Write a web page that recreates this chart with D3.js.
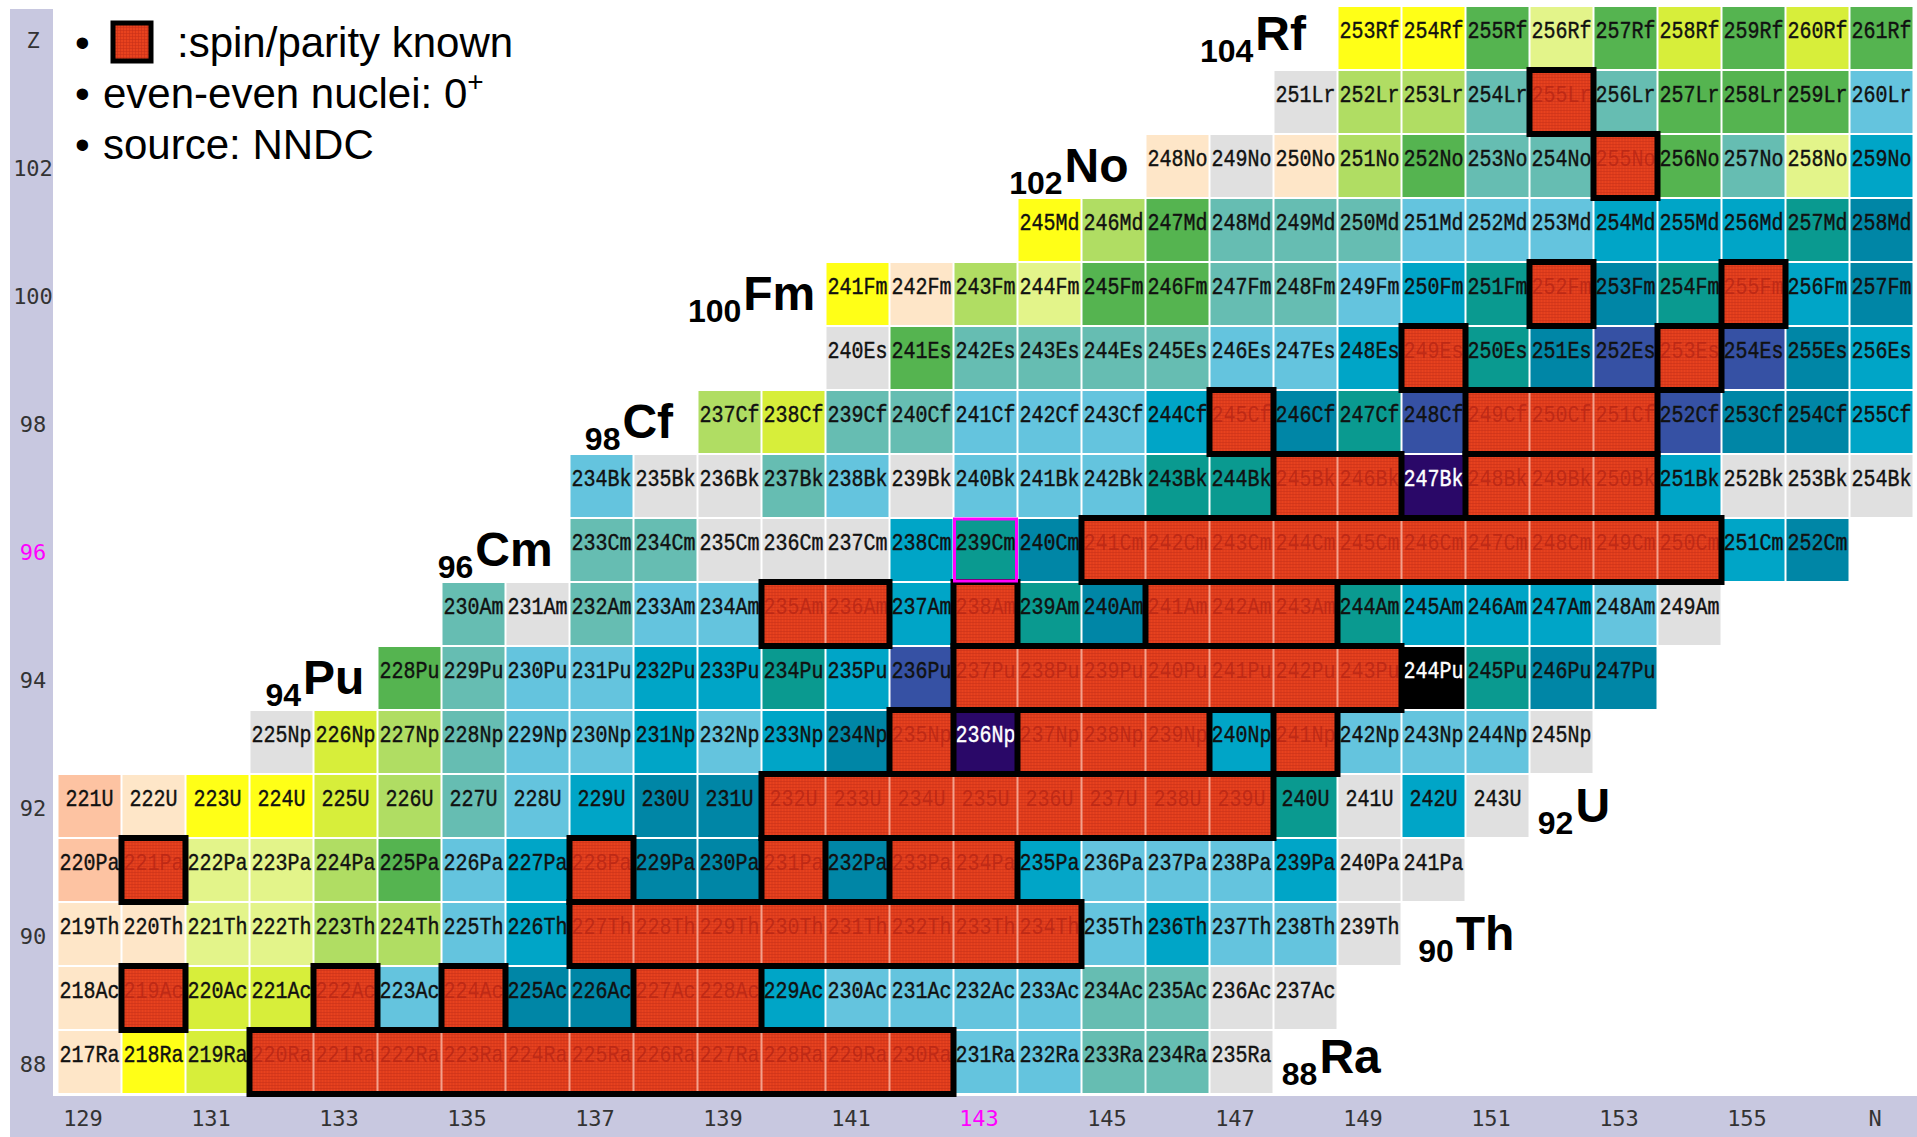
<!DOCTYPE html>
<html>
<head>
<meta charset="utf-8">
<script src="https://cdn.jsdelivr.net/npm/d3@7/dist/d3.min.js"></script>
<style>
  body { margin: 0; background: #fff; }
  svg { display: block; }
</style>
</head>
<body>
<svg id="chart" width="1917" height="1137"></svg>
<script>
// ---- data -------------------------------------------------------------
// proton numbers (rows), bottom to top
const protonNumbers = d3.range(88, 105);
const elementSymbols = ["Ra","Ac","Th","Pa","U","Np","Pu","Am","Cm","Bk","Cf","Es","Fm","Md","No","Lr","Rf"];
// neutron number of the lightest isotope shown in each row
const firstNeutron = [129,129,129,129,129,132,134,135,137,137,139,141,141,144,146,148,149];
// half-life class of each isotope along a row ("sp" = spin/parity known)
const isotopeClasses = [
  "pc ye yg sp sp sp sp sp sp sp sp sp sp sp lb lb tl tl gy",                 // Ra
  "pc sp yg yg sp lb sp db db sp sp mb lb lb lb lb tl tl gy gy",              // Ac
  "pc pc py py lg lg lb mb sp sp sp sp sp sp sp sp lb mb lb lb gy",           // Th
  "sa sp py py lg gr lb mb sp db db sp db sp sp mb lb lb lb mb gy gy",        // Pa
  "sa pc ye ye yg lg tl lb mb db db sp sp sp sp sp sp sp sp dt gy mb gy",     // U
  "gy yg lg tl lb lb mb lb mb db sp pp sp sp sp mb sp lb lb lb gy",           // Np
  "gr tl lb lb mb mb dt mb rb sp sp sp sp sp sp sp bk dt db db",              // Pu
  "tl gy tl lb lb sp sp mb sp dt db sp sp sp dt mb mb mb lb gy",              // Am
  "tl tl gy gy gy mb dt db sp sp sp sp sp sp sp sp sp sp mb db",              // Cm
  "lb gy gy tl lb gy lb lb lb dt dt sp sp pp sp sp sp mb gy gy gy",           // Bk
  "lg yg tl tl lb lb lb mb sp db dt rb sp sp sp rb db db mb",                 // Cf
  "gy gr tl tl tl tl lb lb mb sp dt db rb sp rb db mb",                       // Es
  "ye pc lg py gr gr tl tl lb mb dt sp db dt sp mb db",                       // Fm
  "ye lg gr tl tl tl lb lb lb mb mb mb dt db",                                // Md
  "pc gy pc lg gr tl tl sp gr tl py mb",                                      // No
  "gy lg lg tl sp tl gr gr gr lb",                                            // Lr
  "ye ye gr py gr yg gr yg gr"                                                // Rf
];
// axis ticks
const neutronTicks = [129,131,133,135,137,139,141,143,145,147,149,151,153,155,157];
const protonTicks = [88,90,92,94,96,98,100,102,104];
// highlighted nuclide (239Cm)
const markN = 143, markZ = 96;
// element tags drawn beside the rows
const taggedElements = [
  {z: 88, sym: "Ra"}, {z: 90, sym: "Th"}, {z: 92, sym: "U"}, {z: 94, sym: "Pu"},
  {z: 96, sym: "Cm"}, {z: 98, sym: "Cf"}, {z: 100, sym: "Fm"}, {z: 102, sym: "No"}, {z: 104, sym: "Rf"}
];
const legendLines = [":spin/parity known", "even-even nuclei: 0", "source: NNDC"];

// ---- styles -----------------------------------------------------------
const swatch = {
  gy: "#e0e0e0", pc: "#fee6c8", sa: "#fdc3a2", ye: "#ffff17", yg: "#d7ee3a",
  py: "#e3f48a", lg: "#b0dd63", gr: "#55b450", tl: "#66bdb2", lb: "#64c4de",
  mb: "#00a5c7", db: "#0086a6", dt: "#0a9a90", rb: "#3651a4", pp: "#2a0868",
  bk: "#000000", sp: "url(#spinFill)"
};
const whiteText = new Set(["pp", "bk"]);

// ---- build nuclide table ---------------------------------------------
const nuclides = [];
const spinRuns = [];
protonNumbers.forEach((z, i) => {
  const cls = isotopeClasses[i].split(" ");
  let run = null;
  cls.forEach((c, k) => {
    const n = firstNeutron[i] + k;
    nuclides.push({z, n, a: z + n, sym: elementSymbols[i], cls: c});
    if (c === "sp") {
      if (run && run.n1 === n - 1) run.n1 = n;
      else { run = {z, n0: n, n1: n}; spinRuns.push(run); }
    }
  });
});

// ---- scales -----------------------------------------------------------
const STEP = 64;
const nDomain = d3.range(129, 158);
const x = d3.scaleBand().domain(nDomain)
  .range([57.5, 57.5 + nDomain.length * STEP])
  .paddingInner(2 / STEP).paddingOuter(1 / STEP);
const y = d3.scaleBand().domain(protonNumbers.slice().reverse())
  .range([6, 6 + protonNumbers.length * STEP])
  .paddingInner(2 / STEP).paddingOuter(1 / STEP);
const bw = x.bandwidth();
const xMid = d3.scaleLinear().domain([129, 157]).range([x(129) + bw / 2, x(157) + bw / 2]);
const yMid = d3.scaleLinear().domain([88, 104]).range([y(88) + bw / 2, y(104) + bw / 2]);

const svg = d3.select("#chart");
const W = 1917, H = 1137;

// textured red for spin/parity known nuclides
const defs = svg.append("defs");
const pat = defs.append("pattern").attr("id", "spinFill")
  .attr("patternUnits", "userSpaceOnUse").attr("width", 3).attr("height", 3);
pat.append("rect").attr("width", 3).attr("height", 3).attr("fill", "#e8421e");
pat.append("rect").attr("width", 3).attr("height", 1).attr("fill", "#c73018").attr("opacity", 0.55);
pat.append("rect").attr("width", 1).attr("height", 3).attr("fill", "#c73018").attr("opacity", 0.55);

// axis bands
svg.append("rect").attr("x", 10).attr("y", 9).attr("width", 43).attr("height", H - 9).attr("fill", "#c8c8e0");
svg.append("rect").attr("x", 10).attr("y", 1096).attr("width", W - 10).attr("height", H - 1096).attr("fill", "#c8c8e0");

// pink seams under runs of spin/parity known cells
svg.append("g").selectAll("rect").data(spinRuns).join("rect")
  .attr("x", d => x(d.n0) - 1).attr("y", d => y(d.z) - 1)
  .attr("width", d => (d.n1 - d.n0 + 1) * STEP).attr("height", STEP)
  .attr("fill", "#f3a08c");

// cells
const cells = svg.append("g").selectAll("g").data(nuclides).join("g")
  .attr("transform", d => `translate(${x(d.n)},${y(d.z)})`);
cells.append("rect").attr("width", bw).attr("height", bw)
  .attr("fill", d => swatch[d.cls]);
cells.append("text")
  .attr("transform", `translate(${bw / 2},31) scale(1,1.18)`)
  .attr("text-anchor", "middle")
  .attr("font-family", "'Liberation Mono', 'DejaVu Sans Mono', monospace")
  .attr("font-size", 20)
  .attr("stroke-width", 0.35)
  .attr("stroke", d => d.cls === "sp" ? "none" : whiteText.has(d.cls) ? "#fff" : "#111")
  .attr("fill", d => d.cls === "sp" ? "#b52414" : whiteText.has(d.cls) ? "#fff" : "#111")
  .attr("fill-opacity", d => d.cls === "sp" ? 0.75 : 1)
  .text(d => d.a + d.sym);

// black outline round each run
svg.append("g").selectAll("rect").data(spinRuns).join("rect")
  .attr("x", d => x(d.n0) - 1).attr("y", d => y(d.z) - 1)
  .attr("width", d => (d.n1 - d.n0 + 1) * STEP).attr("height", STEP)
  .attr("fill", "none").attr("stroke", "#000").attr("stroke-width", 6);

// highlighted nuclide
svg.append("rect").attr("x", x(markN)).attr("y", y(markZ))
  .attr("width", bw).attr("height", bw)
  .attr("fill", "none").attr("stroke", "#ff00ff").attr("stroke-width", 3);

// axes
const axisFont = "'DejaVu Sans Mono', monospace";
const gx = svg.append("g").attr("transform", `translate(-7,1110)`)
  .call(d3.axisBottom(xMid).tickValues(neutronTicks).tickSize(0).tickPadding(0)
    .tickFormat(d => d === 157 ? "N" : d));
gx.select(".domain").remove();
gx.selectAll("text").attr("font-family", axisFont).attr("font-size", 22)
  .attr("fill", d => d === markN ? "#ff00ff" : "#333");

const gy = svg.append("g").attr("transform", `translate(33,2)`)
  .call(d3.axisLeft(yMid).tickValues(protonTicks).tickSize(0).tickPadding(0)
    .tickFormat(d => d === 104 ? "Z" : d));
gy.select(".domain").remove();
gy.selectAll("text").attr("font-family", axisFont).attr("font-size", 22)
  .attr("text-anchor", "middle").attr("x", 0)
  .attr("fill", d => d === markZ ? "#ff00ff" : "#333");

// element tags: left edge given in neutron-number units, lifted rows where space is tight
const tagLeft = {88: 147.63, 90: 149.76, 92: 151.63, 94: 131.75, 96: 134.44, 98: 136.74, 100: 138.35, 102: 143.37, 104: 146.35};
const tagLift = {88: -5, 104: -4};
const tags = svg.append("g").attr("font-family", "'Liberation Sans', Arial, sans-serif").attr("font-weight", "bold").attr("fill", "#000");
taggedElements.forEach(t => {
  const base = y(t.z) + 47 + (tagLift[t.z] || 0);
  const x0 = xMid(tagLeft[t.z]);
  const num = tags.append("text").attr("x", x0).attr("y", base + 12).attr("font-size", 32).text(t.z);
  const w = num.node().getComputedTextLength();
  tags.append("text").attr("x", x0 + w + 2).attr("y", base).attr("font-size", 48).text(t.sym);
});

// legend
const lg = svg.append("g").attr("font-family", "'Liberation Sans', Arial, sans-serif").attr("font-size", 42).attr("fill", "#000");
const lineY = [57, 108, 159];
lineY.forEach(yy => lg.append("text").attr("x", 75).attr("y", yy).text("\u2022"));
lg.append("rect").attr("x", 113).attr("y", 23).attr("width", 38).attr("height", 38)
  .attr("fill", "url(#spinFill)").attr("stroke", "#000").attr("stroke-width", 5);
lg.append("text").attr("x", 177).attr("y", lineY[0]).text(legendLines[0]);
const l2 = lg.append("text").attr("x", 103).attr("y", lineY[1]).text(legendLines[1]);
l2.append("tspan").attr("font-size", 28).attr("dy", -17).text("+");
lg.append("text").attr("x", 103).attr("y", lineY[2]).text(legendLines[2]);
</script>
</body>
</html>
